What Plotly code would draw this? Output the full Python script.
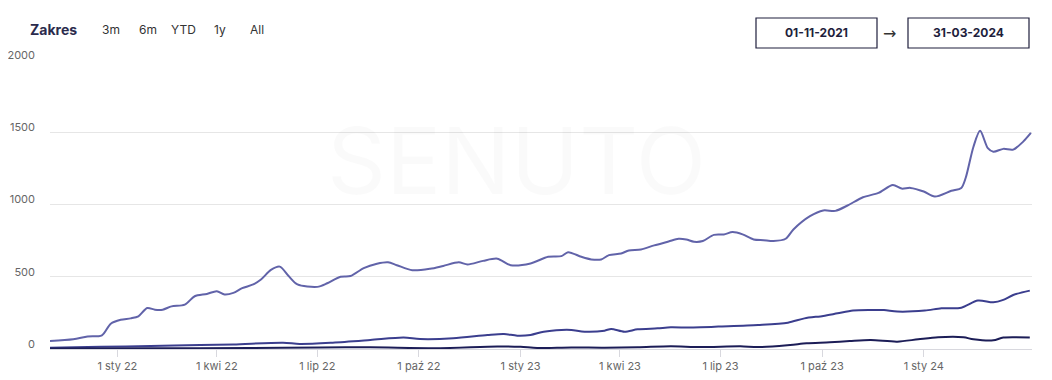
import plotly.graph_objects as go

# ---------------- data ----------------
top_dates = ["2021-11-01","2021-11-22","2021-12-05","2021-12-18","2021-12-26","2022-01-04","2022-01-13",
             "2022-01-20","2022-01-28","2022-02-04","2022-02-11","2022-02-19","2022-03-03","2022-03-12",
             "2022-03-23","2022-04-01","2022-04-08","2022-04-16","2022-04-24","2022-05-04","2022-05-11",
             "2022-05-20","2022-05-28","2022-06-05","2022-06-13","2022-07-01","2022-07-10","2022-07-22",
             "2022-07-31","2022-08-12","2022-08-24","2022-09-03","2022-09-11","2022-09-25","2022-10-11",
             "2022-10-23","2022-11-06","2022-11-14","2022-11-28","2022-12-11","2022-12-23","2023-01-10",
             "2023-01-26","2023-02-07","2023-02-13","2023-02-25","2023-03-06","2023-03-15","2023-03-22",
             "2023-04-02","2023-04-09","2023-04-20","2023-05-02","2023-05-15","2023-05-24","2023-05-31",
             "2023-06-07","2023-06-15","2023-06-25","2023-07-04","2023-07-12","2023-07-21","2023-07-31",
             "2023-08-09","2023-08-18","2023-08-29","2023-09-05","2023-09-20","2023-10-02","2023-10-13",
             "2023-10-24","2023-11-07","2023-11-21","2023-12-04","2023-12-12","2023-12-20","2024-01-01",
             "2024-01-11","2024-01-26","2024-02-04","2024-02-08","2024-02-15","2024-02-21","2024-02-28",
             "2024-03-04","2024-03-13","2024-03-22","2024-03-31","2024-04-07"]
top_values = [55,67,86,95,175,202,212,226,284,272,272,295,307,365,381,400,377,388,421,447,481,547,570,505,
              447,430,455,500,505,560,590,600,580,545,555,575,600,585,610,625,580,592,638,643,670,638,620,
              620,650,661,682,689,717,744,763,758,742,747,790,793,809,793,758,753,747,763,827,919,959,956,
              993,1050,1080,1135,1110,1115,1090,1055,1095,1115,1185,1400,1510,1390,1365,1385,1380,1435,1495]

mid_dates = ["2021-11-01","2021-12-17","2022-01-31","2022-03-17","2022-04-16","2022-05-31","2022-06-15",
             "2022-07-15","2022-08-18","2022-09-17","2022-10-02","2022-11-01","2022-12-02","2022-12-17",
             "2022-12-29","2023-01-10","2023-01-22","2023-02-07","2023-02-16","2023-02-28","2023-03-18",
             "2023-03-24","2023-04-05","2023-04-17","2023-05-05","2023-05-17","2023-06-02","2023-06-13",
             "2023-06-29","2023-08-04","2023-08-31","2023-09-15","2023-10-02","2023-10-15","2023-10-29",
             "2023-11-14","2023-11-26","2023-12-08","2024-01-02","2024-01-17","2024-02-04","2024-02-19",
             "2024-03-04","2024-03-13","2024-03-22","2024-04-06"]
mid_values = [9,15,20,28,32,44,35,44,62,79,69,74,97,104,92,97,120,132,132,120,127,139,120,136,143,150,148,
              150,155,166,182,212,229,247,266,270,270,259,266,282,286,335,323,340,374,404]

low_dates = ["2021-11-01","2022-01-31","2022-05-01","2022-07-04","2022-08-18","2022-10-18","2022-12-11",
             "2023-01-01","2023-01-16","2023-02-16","2023-03-18","2023-04-17","2023-05-17","2023-06-13",
             "2023-07-19","2023-08-04","2023-09-02","2023-09-17","2023-10-08","2023-10-26","2023-11-14",
             "2023-12-08","2023-12-27","2024-01-14","2024-02-06","2024-02-15","2024-03-04","2024-03-13",
             "2024-04-06"]
low_values = [3,5,7,10,12,6,18,15,7,11,9,12,19,13,19,13,28,39,46,55,62,51,67,81,81,67,60,79,79]

tick_dates = ["2022-01-01","2022-04-01","2022-07-01","2022-10-01","2023-01-01","2023-04-01",
              "2023-07-01","2023-10-01","2024-01-01"]
tick_labels = ["1 sty 22","1 kwi 22","1 lip 22","1 paź 22","1 sty 23","1 kwi 23",
               "1 lip 23","1 paź 23","1 sty 24"]
y_ticks = [0, 500, 1000, 1500, 2000]
range_buttons = ["3m", "6m", "YTD", "1y", "All"]
date_from, date_to = "01-11-2021", "31-03-2024"

# ---------------- figure ----------------
# the page body has an 8px default margin, so the figure is sized/offset to compensate
OFF = 8
W, H = 1052 - OFF, 380 - OFF
L_PAGE, T_PAGE, PW, PH = 50, 60, 982, 289
L, T = L_PAGE - OFF, T_PAGE - OFF
R, B = W - L - PW, H - T - PH

def px(x):   # page pixel x -> paper coordinate
    return (x - L_PAGE) / PW

def py(y):   # page pixel y -> paper coordinate
    return (T_PAGE + PH - y) / PH

FONT = "Inter, Open Sans, sans-serif"

fig = go.Figure()
series = [
    (top_dates, top_values, "#6163a9"),
    (mid_dates, mid_values, "#3b3e8e"),
    (low_dates, low_values, "#1c1d57"),
]
for d, v, c in series:
    fig.add_trace(go.Scatter(x=d, y=v, mode="lines",
                             line=dict(color=c, width=2, shape="spline", smoothing=0.8),
                             hoverinfo="skip", showlegend=False))

fig.update_layout(
    width=W, height=H,
    margin=dict(l=L, r=R, t=T, b=B, pad=0, autoexpand=False),
    paper_bgcolor="white", plot_bgcolor="white",
    font=dict(family=FONT, color="#555"),
    showlegend=False,
)
fig.update_xaxes(
    type="date", range=["2021-11-01", "2024-04-08"], automargin=False,
    tickvals=tick_dates, ticktext=tick_labels,
    showgrid=False, zeroline=False,
    showline=True, linecolor="#d8d8de", linewidth=1,
    ticks="outside", ticklen=7, tickcolor="#d8d8de", tickwidth=1,
    tickfont=dict(size=11, color="#666", family=FONT),
)
fig.update_yaxes(
    range=[0, 2000], tickvals=y_ticks, automargin=False,
    showgrid=True, gridcolor="#e6e6e6", gridwidth=1,
    zeroline=False, showline=False,
    tickfont=dict(size=11, color="#666", family=FONT),
    ticklabelstandoff=14, ticklabelshift=-5,
)

ann = []
# watermark
ann.append(dict(x=px(516), y=py(160), xref="paper", yref="paper", text="SENUTO",
                showarrow=False, font=dict(size=92, color="rgba(0,0,0,0.018)", family=FONT)))
# header
ann.append(dict(x=px(28), y=py(30), xref="paper", yref="paper", text="<b>Zakres</b>",
                xanchor="left", yanchor="middle", showarrow=False,
                font=dict(size=14, color="#2b2b4d", family=FONT)))
btn_x = [111, 148, 183, 220, 257]
for bx, lab in zip(btn_x, range_buttons):
    ann.append(dict(x=px(bx), y=py(30), xref="paper", yref="paper", text=lab,
                    xanchor="center", yanchor="middle", showarrow=False,
                    font=dict(size=12, color="#333", family=FONT)))
# date boxes
for (x0, x1), lab in zip([(756, 877), (908, 1029)], [date_from, date_to]):
    fig.add_shape(type="rect", xref="paper", yref="paper",
                  x0=px(x0), x1=px(x1), y0=py(48), y1=py(18),
                  line=dict(color="#1e1e3c", width=1.2), fillcolor="white")
    ann.append(dict(x=px((x0 + x1) / 2), y=py(33), xref="paper", yref="paper",
                    text="<b>%s</b>" % lab, xanchor="center", yanchor="middle",
                    showarrow=False, font=dict(size=12, color="#1e1e3c", family=FONT)))
ann.append(dict(x=px(889), y=py(34), xref="paper", yref="paper", text="→",
                xanchor="center", yanchor="middle", showarrow=False,
                font=dict(size=16, color="#333", family="DejaVu Sans")))
fig.update_layout(annotations=ann)

fig.write_html("out.html")
